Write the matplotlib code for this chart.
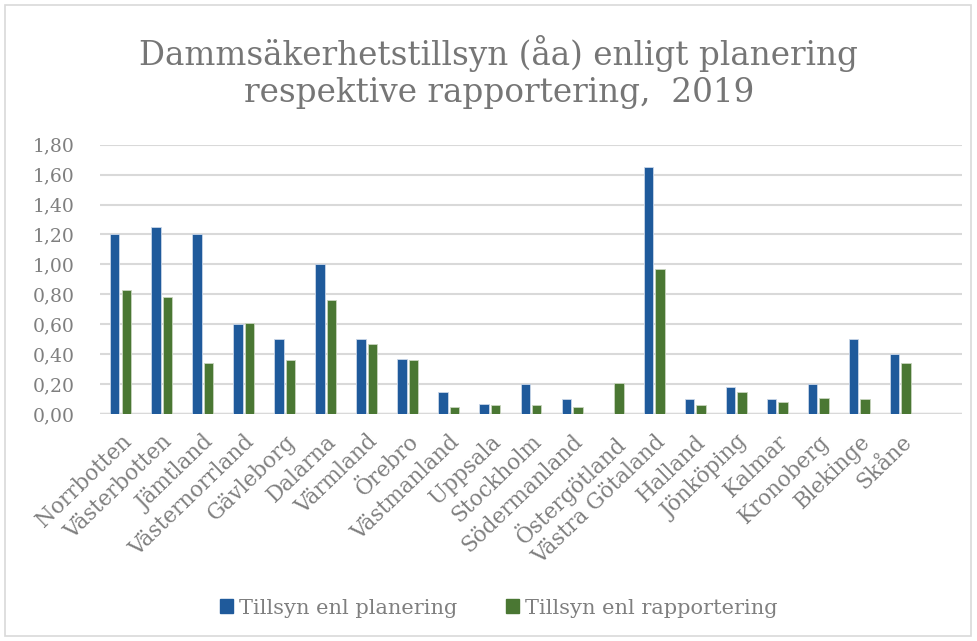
import matplotlib.pyplot as plt
import numpy as np
from matplotlib.patches import Rectangle, Patch

lan = ["Norrbotten", "Västerbotten", "Jämtland", "Västernorrland", "Gävleborg",
       "Dalarna", "Värmland", "Örebro", "Västmanland", "Uppsala", "Stockholm",
       "Södermanland", "Östergötland", "Västra Götaland", "Halland", "Jönköping",
       "Kalmar", "Kronoberg", "Blekinge", "Skåne"]
planering = [1.20, 1.25, 1.20, 0.60, 0.50, 1.00, 0.50, 0.37, 0.15, 0.07, 0.20,
             0.10, 0.00, 1.65, 0.10, 0.18, 0.10, 0.20, 0.50, 0.40]
rapportering = [0.83, 0.78, 0.34, 0.61, 0.36, 0.76, 0.47, 0.36, 0.045, 0.06, 0.06,
                0.045, 0.21, 0.97, 0.06, 0.15, 0.08, 0.11, 0.10, 0.34]
yticks = np.arange(0, 1.81, 0.2)

blue = "#1f5a9b"
green = "#4a7733"
grey = "#7f7f7f"
font = "DejaVu Serif"

fig = plt.figure(figsize=(9.78, 6.41), dpi=100)
fig.patches.append(Rectangle((5/978, 5/641), 966/978, 631/641, transform=fig.transFigure,
                             fill=False, edgecolor="#d9d9d9", linewidth=1.2))
ax = fig.add_axes([100/978, 1-414/641, 862/978, (414-144.7)/641])

x = np.arange(len(lan))
w = 0.23
ax.bar(x - 0.14, planering, w, color=blue, edgecolor="#c9d6e8", linewidth=0.6, zorder=3)
ax.bar(x + 0.14, rapportering, w, color=green, edgecolor="#c8d5bf", linewidth=0.6, zorder=3)

ax.set_xlim(-0.5, len(lan) + 0.5)
ax.set_ylim(0, 1.8)
ax.set_yticks(yticks)
ax.set_yticklabels([f"{v:.2f}".replace(".", ",") for v in yticks],
                   fontsize=13.5, color=grey, family=font)
ax.set_xticks(x)
ax.set_xticklabels(lan, rotation=44, ha="right", rotation_mode="anchor",
                   fontsize=15.5, color=grey, family=font)
ax.tick_params(axis="y", length=0, pad=18)
ax.tick_params(axis="x", length=0, pad=12)
ax.grid(axis="y", color="#d9d9d9", linewidth=1.5, zorder=0)
ax.axhline(0, color="#d9d9d9", linewidth=2.5, zorder=2)
for s in ax.spines.values():
    s.set_visible(False)

fig.text(0.51, 1-72/641, "Dammsäkerhetstillsyn (åa) enligt planering\nrespektive rapportering,  2019",
         ha="center", va="center", fontsize=23.5, color="#767676", family=font, linespacing=1.2)

handles = [Patch(color=blue, label="Tillsyn enl planering"),
           Patch(color=green, label="Tillsyn enl rapportering")]
fig.legend(handles=handles, loc="center", bbox_to_anchor=(0.51, 1-608/641), ncol=2,
           frameon=False, handlelength=0.65, handleheight=0.65, handletextpad=0.3,
           columnspacing=2.3, prop={"family": font, "size": 15}, labelcolor=grey)

fig.savefig("out.png", dpi=100)
